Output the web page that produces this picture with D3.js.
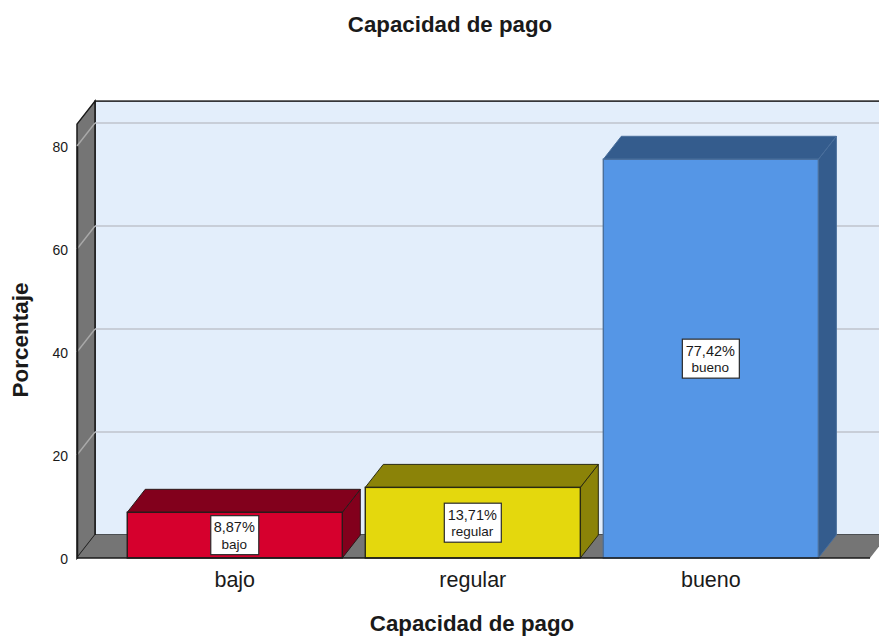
<!DOCTYPE html>
<html>
<head>
<meta charset="utf-8">
<script src="https://cdn.jsdelivr.net/npm/d3@7"></script>
<style>
  body { margin: 0; background: #fff; overflow: hidden; }
  text { font-family: "Liberation Sans", Arial, sans-serif; fill: #1a1a1a; }
</style>
</head>
<body>
<div id="chart"></div>
<script>
var categories = ["bajo", "regular", "bueno"];
var percentages = [8.87, 13.71, 77.42];
var pctLabels = ["8,87%", "13,71%", "77,42%"];
var frontColors = ["#d6002d", "#e4d80d", "#5596e6"];
var topColors = ["#82001c", "#8b8308", "#345c8d"];
var edgeColors = ["#2a1a1a", "#2a2a10", "#4a6f9c"];
var yTicks = [0, 20, 40, 60, 80];

var width = 879, height = 637;
// oblique offset of the 3d box
var depthX = 18, depthY = -23;

var svg = d3.select("#chart").append("svg")
  .attr("width", width)
  .attr("height", height);

var x = d3.scaleBand()
  .domain(categories)
  .range([76.3, 869.3])
  .paddingInner(0.0966)
  .paddingOuter(0.214);

var y = d3.scaleLinear()
  .domain([0, 80])
  .range([558, 146]);

var yTop = y(84.25);

// back wall
svg.append("rect")
  .attr("x", 77 + depthX).attr("y", yTop + depthY)
  .attr("width", width).attr("height", y(0) - yTop)
  .attr("fill", "#e3eefb")
  .attr("stroke", "#1a1a1a").attr("stroke-width", 1.5);

// left wall
svg.append("polygon")
  .attr("points", [[77, yTop], [77 + depthX, yTop + depthY], [77 + depthX, y(0) + depthY], [77, y(0)]].join(" "))
  .attr("fill", "#757575")
  .attr("stroke", "#1a1a1a").attr("stroke-width", 1.5);

// floor
svg.append("polygon")
  .attr("points", [[77, y(0)], [77 + depthX, y(0) + depthY], [870 + depthX, y(0) + depthY], [870, y(0)]].join(" "))
  .attr("fill", "#757575");

// gridlines, left wall part is darker than the back wall part
svg.selectAll(".gridSide")
  .data(yTicks.slice(1))
  .enter().append("line")
  .attr("class", "gridSide")
  .attr("x1", 77).attr("y1", function(d) { return y(d); })
  .attr("x2", 77 + depthX).attr("y2", function(d) { return y(d) + depthY; })
  .attr("stroke", "#a9a9a9").attr("stroke-width", 1.4);

svg.selectAll(".gridBack")
  .data(yTicks.slice(1))
  .enter().append("line")
  .attr("class", "gridBack")
  .attr("x1", 77 + depthX).attr("y1", function(d) { return y(d) + depthY; })
  .attr("x2", width).attr("y2", function(d) { return y(d) + depthY; })
  .attr("stroke", "#bfc3cc").attr("stroke-width", 1.6);

// bars
var bar = svg.selectAll(".bar")
  .data(categories)
  .enter().append("g")
  .attr("class", "bar");

bar.append("polygon")
  .attr("points", function(d, i) {
    var x1 = x(d) + x.bandwidth(), t = y(percentages[i]);
    return [[x1, t], [x1 + depthX, t + depthY], [x1 + depthX, y(0) + depthY], [x1, y(0)]].join(" ");
  })
  .attr("fill", function(d, i) { return topColors[i]; })
  .attr("stroke", function(d, i) { return edgeColors[i]; })
  .attr("stroke-width", 1);

bar.append("polygon")
  .attr("points", function(d, i) {
    var x0 = x(d), x1 = x0 + x.bandwidth(), t = y(percentages[i]);
    return [[x0, t], [x0 + depthX, t + depthY], [x1 + depthX, t + depthY], [x1, t]].join(" ");
  })
  .attr("fill", function(d, i) { return topColors[i]; })
  .attr("stroke", function(d, i) { return edgeColors[i]; })
  .attr("stroke-width", 1);

bar.append("rect")
  .attr("x", function(d) { return x(d); })
  .attr("y", function(d, i) { return y(percentages[i]); })
  .attr("width", x.bandwidth())
  .attr("height", function(d, i) { return y(0) - y(percentages[i]); })
  .attr("fill", function(d, i) { return frontColors[i]; })
  .attr("stroke", function(d, i) { return edgeColors[i]; })
  .attr("stroke-width", 1.4);

// value labels in white boxes
var label = svg.selectAll(".lab")
  .data(categories)
  .enter().append("g")
  .attr("class", "lab")
  .attr("transform", function(d, i) {
    return "translate(" + (x(d) + x.bandwidth() / 2) + "," + ((y(0) + y(percentages[i])) / 2) + ")";
  });

label.append("rect")
  .attr("x", function(d, i) { return i == 0 ? -24 : -28.5; })
  .attr("y", -19.5)
  .attr("width", function(d, i) { return i == 0 ? 48 : 57; })
  .attr("height", 39)
  .attr("fill", "#fff")
  .attr("stroke", "#2a2a2a").attr("stroke-width", 1.2);

// two lines, kept far enough apart not to collide
label.append("text")
  .attr("text-anchor", "middle")
  .attr("x", -0.5).attr("y", -3)
  .attr("font-size", 14.5)
  .text(function(d, i) { return pctLabels[i]; });

label.append("text")
  .attr("text-anchor", "middle")
  .attr("x", -0.5).attr("y", 13.5)
  .attr("font-size", 13.5)
  .text(function(d) { return d; });

// axes
var yAxis = svg.append("g")
  .attr("transform", "translate(77,0)")
  .call(d3.axisLeft(y).tickValues(yTicks).tickSize(0).tickPadding(9));
yAxis.select(".domain").attr("stroke", "#1a1a1a").attr("stroke-width", 1.5);
yAxis.selectAll("text").attr("font-size", 14).attr("font-family", null).attr("y", 1);

var xAxis = svg.append("g")
  .attr("transform", "translate(0,558)")
  .call(d3.axisBottom(x).tickSize(0).tickPadding(14));
xAxis.select(".domain").attr("d", "M77,0H870").attr("stroke", "#1a1a1a").attr("stroke-width", 1.5);
xAxis.selectAll("text").attr("font-size", 21.5).attr("font-family", null).attr("fill", "#3a3a3a");

// titles
svg.append("text")
  .attr("x", 450).attr("y", 32)
  .attr("text-anchor", "middle")
  .attr("font-size", 22.3).attr("font-weight", "bold")
  .text("Capacidad de pago");

svg.append("text")
  .attr("x", 472).attr("y", 631)
  .attr("text-anchor", "middle")
  .attr("font-size", 22.3).attr("font-weight", "bold")
  .text("Capacidad de pago");

svg.append("text")
  .attr("transform", "translate(28,340) rotate(-90)")
  .attr("text-anchor", "middle")
  .attr("font-size", 22.5).attr("font-weight", "bold")
  .text("Porcentaje");
</script>
</body>
</html>
